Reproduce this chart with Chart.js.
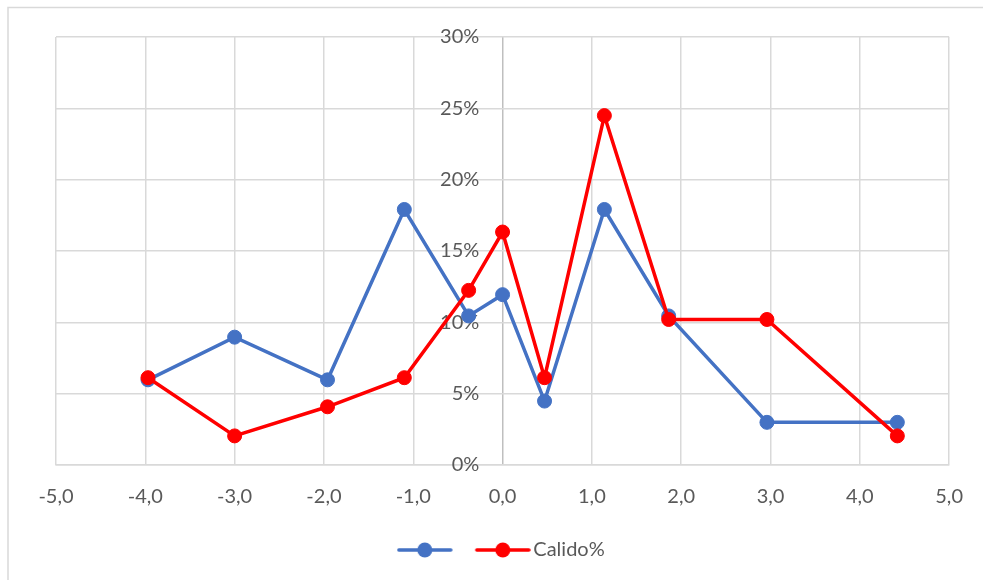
<!DOCTYPE html>
<html>
<head>
<meta charset="utf-8">
<script src="https://cdn.jsdelivr.net/npm/chart.js@4/dist/chart.umd.min.js"></script>
<style>
  html, body { margin: 0; padding: 0; background: #ffffff; }
  #wrap { width: 983px; height: 580px; position: relative; }
</style>
</head>
<body>
<div id="wrap"><canvas id="chart" width="983" height="580"></canvas></div>
<script>
// Shared x positions of both series
const xValues = [-3.97, -3.0, -1.96, -1.10, -0.38, 0.0, 0.47, 1.14, 1.86, 2.96, 4.42];
// Series values, in percent
const serieAzul = [5.97, 8.96, 5.97, 17.91, 10.45, 11.94, 4.48, 17.91, 10.45, 2.99, 2.99];
const calido = [6.12, 2.04, 4.08, 6.12, 12.24, 16.33, 6.12, 24.49, 10.20, 10.20, 2.04];
const seriesNames = ['', 'Calido%'];
// Axis ranges and steps
const xRange = [-5, 5];
const yRange = [0, 30];
const xStep = 1;
const yStep = 5;

const BLUE = '#4472C4';
const RED = '#FF0000';
const TEXT = '#595959';
const GRID = '#d9d9d9';
const FONT = { family: 'Lato', size: 20 };

function toPoints(values) {
  return values.map((v, i) => ({ x: xValues[i], y: v }));
}

// Legend icon: short line with a dot in the middle
function makeIcon(color, offset) {
  const half = 28 + Math.abs(offset);
  const c = document.createElement('canvas');
  c.width = half * 2;
  c.height = 18;
  const g = c.getContext('2d');
  const cx = half + offset;
  g.strokeStyle = color;
  g.lineWidth = 3.5;
  g.lineCap = 'round';
  g.beginPath();
  g.moveTo(cx - 26, 9);
  g.lineTo(cx + 26, 9);
  g.stroke();
  g.fillStyle = color;
  g.beginPath();
  g.arc(cx, 9, 7.5, 0, Math.PI * 2);
  g.fill();
  return c;
}
const legendIcons = [makeIcon(BLUE, -1.5), makeIcon(RED, 4.5)];

const frame = {
  id: 'frame',
  beforeDraw(chart) {
    const ctx = chart.ctx;
    ctx.save();
    ctx.strokeStyle = GRID;
    ctx.lineWidth = 1.5;
    ctx.beginPath();
    ctx.moveTo(8, 600);
    ctx.lineTo(8, 7.5);
    ctx.lineTo(1000, 7.5);
    ctx.stroke();
    ctx.restore();
  }
};

new Chart(document.getElementById('chart'), {
  type: 'scatter',
  data: {
    datasets: [
      {
        label: seriesNames[0],
        data: toPoints(serieAzul),
        showLine: true,
        borderColor: BLUE,
        backgroundColor: BLUE,
        borderWidth: 3.5,
        pointRadius: 7,
        pointBorderWidth: 1,
        pointBackgroundColor: BLUE,
        pointBorderColor: BLUE,
        order: 2
      },
      {
        label: seriesNames[1],
        data: toPoints(calido),
        showLine: true,
        borderColor: RED,
        backgroundColor: RED,
        borderWidth: 3.5,
        pointRadius: 7,
        pointBorderWidth: 1,
        pointBackgroundColor: RED,
        pointBorderColor: RED,
        order: 1
      }
    ]
  },
  options: {
    responsive: false,
    animation: false,
    devicePixelRatio: 1,
    layout: { padding: { left: 56, right: 33, top: 37, bottom: 10 } },
    scales: {
      x: {
        type: 'linear',
        position: 'bottom',
        min: xRange[0],
        max: xRange[1],
        ticks: {
          stepSize: xStep,
          padding: 20,
          color: TEXT,
          font: FONT,
          callback: (v) => v.toFixed(1).replace('.', ',')
        },
        grid: {
          color: (c) => (c.tick && c.tick.value === 0 ? '#bfbfbf' : GRID),
          lineWidth: 1.5,
          drawTicks: false
        },
        border: { color: GRID, width: 1.5 },
        afterFit: (s) => { s.height = 63; }
      },
      y: {
        type: 'linear',
        position: { x: -0.26 },
        min: yRange[0],
        max: yRange[1],
        ticks: {
          stepSize: yStep,
          color: TEXT,
          font: FONT,
          callback: (v) => v + '%'
        },
        grid: { color: GRID, lineWidth: 1.5, drawTicks: false },
        border: { display: false },
        afterFit: (s) => { s.width = 0; }
      }
    },
    plugins: {
      tooltip: { enabled: false },
      legend: {
        position: 'bottom',
        labels: {
          usePointStyle: true,
          pointStyleWidth: 50,
          padding: 12,
          color: TEXT,
          font: FONT,
          generateLabels: (chart) => chart.data.datasets.map((ds, i) => ({
            text: ds.label,
            pointStyle: legendIcons[i],
            fillStyle: ds.borderColor,
            strokeStyle: ds.borderColor,
            lineWidth: 0,
            fontColor: TEXT,
            hidden: !chart.isDatasetVisible(i),
            datasetIndex: i
          }))
        }
      }
    }
  },
  plugins: [frame]
});
</script>
</body>
</html>
